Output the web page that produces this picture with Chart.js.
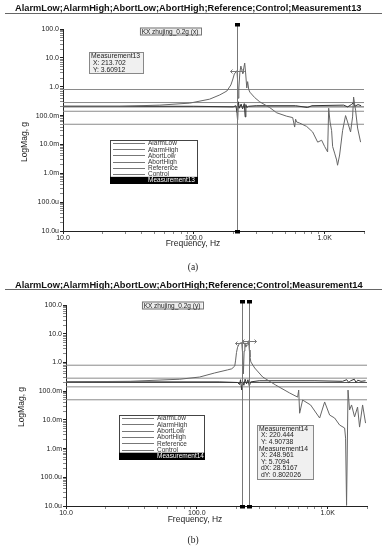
<!DOCTYPE html>
<html>
<head>
<meta charset="utf-8">
<script src="https://cdn.jsdelivr.net/npm/chart.js@4.4.1/dist/chart.umd.min.js"></script>
<style>
html, body { margin: 0; padding: 0; background: #fff; }
#wrap { position: relative; width: 387px; height: 550px; }
canvas { position: absolute; left: 0; }
</style>
</head>
<body>
<div id="wrap">
  <canvas id="chartA" width="387" height="275" style="top:0"></canvas>
  <canvas id="chartB" width="387" height="275" style="top:275px"></canvas>
</div>
<script>
// limit lines (g), same for both plots
var limitNames = ['AlarmLow', 'AlarmHigh', 'AbortLow', 'AbortHigh', 'Reference'];
var limitValues = [0.141, 0.283, 0.05, 0.8, 0.2];

// (a) x axis response
var freq13 = [10, 27, 55, 93, 132, 158, 179, 192, 199, 204, 213.7, 216, 218, 221, 225, 229, 232, 237, 241, 245,
  249, 254, 258, 263, 268, 292, 319, 380, 430, 513, 570, 590, 600, 611, 644, 729, 810, 885, 949, 1000,
  1054, 1074, 1100, 1131, 1151, 1192, 1235, 1256, 1302, 1372, 1446, 1498, 1579, 1636, 1665, 1725, 1787, 1884];
var mag13 = [0.21, 0.21, 0.23, 0.27, 0.37, 0.52, 0.71, 1.15, 1.85, 2.76, 3.61, 1.7, 0.4, 0.9, 3.2, 5.2, 4.0, 2.8, 4.5, 6.6,
  3.0, 0.9, 1.5, 0.8, 0.65, 0.42, 0.30, 0.19, 0.125, 0.095, 0.085, 0.04, 0.075, 0.06, 0.055, 0.042, 0.027, 0.012, 0.014, 0.0085,
  0.0055, 0.18, 0.06, 0.03, 0.0085, 0.005, 0.0029, 0.0019, 0.0043, 0.03, 0.10, 0.06, 0.027, 0.09, 0.44, 0.15, 0.037, 0.012];
var ctrlFreq13 = [10, 100, 200, 210, 214, 216, 219, 223, 230, 236, 243, 247, 250, 254, 262, 300, 600, 740, 760, 800,
  1400, 1500, 1600, 1660, 1700, 1800, 1900];
var ctrlMag13 = [0.21, 0.21, 0.2, 0.22, 0.12, 0.07, 0.3, 0.18, 0.25, 0.17, 0.26, 0.09, 0.24, 0.19, 0.21, 0.22, 0.22, 0.19, 0.2, 0.22,
  0.23, 0.2, 0.24, 0.28, 0.21, 0.24, 0.22];
var cursor13 = [213.702];
var cursorY13 = [3.60912];

// (b) y axis response
var freq14 = [10, 31, 74, 105, 137, 172, 185, 195, 198, 201, 205, 212, 220.4, 224, 227, 230, 233, 237, 242, 249,
  252, 255, 259, 277, 319, 401, 513, 590, 601, 611, 644, 741, 869, 949, 1036, 1131, 1235, 1349, 1372, 1396,
  1432, 1471, 1524, 1607, 1694, 1755, 1851, 1950];
var mag14 = [0.21, 0.22, 0.26, 0.31, 0.43, 0.55, 0.6, 0.75, 1.2, 2.2, 3.4, 4.6, 4.91, 2.0, 0.4, 2.5, 4.8, 3.4, 4.2, 5.71,
  2.7, 1.54, 1.04, 0.64, 0.31, 0.163, 0.086, 0.062, 0.109, 0.017, 0.049, 0.033, 0.0116, 0.042, 0.0147, 0.0116, 0.0066, 0.0052, 0.0023, 0.0000105,
  0.109, 0.022, 0.033, 0.0127, 0.028, 0.0056, 0.033, 0.0077];
var ctrlFreq14 = [10, 150, 205, 212, 216, 220, 224, 229, 234, 240, 246, 252, 258, 300, 800, 1300, 1400, 1450, 1500, 1600,
  1650, 1700, 1800, 1950];
var ctrlMag14 = [0.21, 0.21, 0.2, 0.17, 0.25, 0.11, 0.22, 0.16, 0.26, 0.18, 0.25, 0.15, 0.21, 0.23, 0.23, 0.22, 0.25, 0.2, 0.23, 0.26,
  0.2, 0.24, 0.22, 0.23];
var cursor14 = [220.444, 248.961];
var cursorY14 = [4.90738, 5.7094];

// tick labels by decade exponent
var yTickText = { '-5': '10.0u', '-4': '100.0u', '-3': '1.0m', '-2': '10.0m', '-1': '100.0m', '0': '1.0', '1': '10.0', '2': '100.0' };
var xTickText = { '1': '10.0', '2': '100.0', '3': '1.0K' };

var FONT = '"Liberation Sans", Arial, sans-serif';

function pairs(xs, ys) {
  return xs.map(function(x, i) { return { x: x, y: ys[i] }; });
}

function decade(v) {
  var e = Math.log10(v), r = Math.round(e);
  return Math.abs(e - r) < 1e-6 ? r : null;
}

function logTicks(s) {
  var t = [];
  for (var e = Math.floor(Math.log10(s.min)); e <= Math.ceil(Math.log10(s.max)); e++) {
    for (var m = 1; m < 10; m++) {
      var v = m * Math.pow(10, e);
      if (v >= s.min * 0.999 && v <= s.max * 1.001) t.push({ value: v });
    }
  }
  s.ticks = t;
}

function tickColor(c) {
  if (!c.tick) return '#222';
  return decade(c.tick.value) !== null ? '#222' : '#888';
}

// everything the library does not draw itself: title, cursors, boxes, legend, axis names
var decor = {
  id: 'decor',
  afterDraw: function(chart, args, o) {
    var ctx = chart.ctx, ca = chart.chartArea;
    var xs = chart.scales.x, ys = chart.scales.y;
    ctx.save();

    // title with underline
    ctx.fillStyle = '#111';
    ctx.font = 'bold 9px ' + FONT;
    var size = 9 * o.titleWidth / ctx.measureText(o.title).width;
    ctx.font = 'bold ' + size.toFixed(2) + 'px ' + FONT;
    ctx.textBaseline = 'middle';
    ctx.textAlign = 'left';
    ctx.fillText(o.title, o.titleX, o.titleY);
    ctx.strokeStyle = '#666';
    ctx.lineWidth = 1;
    ctx.beginPath();
    ctx.moveTo(5, o.ruleY + 0.5);
    ctx.lineTo(382, o.ruleY + 0.5);
    ctx.stroke();

    // cursors
    o.cursors.forEach(function(cv, i) {
      var px = Math.round(xs.getPixelForValue(cv)) + 0.5;
      ctx.strokeStyle = '#777';
      ctx.lineWidth = 1;
      ctx.beginPath();
      ctx.moveTo(px, o.cursorTop);
      ctx.lineTo(px, ca.bottom + 2);
      ctx.stroke();
      ctx.fillStyle = '#000';
      ctx.fillRect(px - 2.5, o.cursorTop - 2, 5, 3.5);
      ctx.fillRect(px - 2.5, ca.bottom - 1, 5, 3.5);
      // double arrow at the cursor value
      var py = Math.round(ys.getPixelForValue(o.cursorY[i])) + 0.5;
      ctx.strokeStyle = '#777';
      ctx.beginPath();
      ctx.moveTo(px - 7, py); ctx.lineTo(px + 7, py);
      ctx.moveTo(px - 5, py - 2); ctx.lineTo(px - 7, py); ctx.lineTo(px - 5, py + 2);
      ctx.moveTo(px + 5, py - 2); ctx.lineTo(px + 7, py); ctx.lineTo(px + 5, py + 2);
      ctx.stroke();
    });

    // trace name box
    ctx.font = '6.5px ' + FONT;
    var kw = ctx.measureText(o.trace).width + 4;
    ctx.fillStyle = '#ececec';
    ctx.fillRect(o.traceX - kw / 2, o.traceY - 4, kw, 8);
    ctx.strokeStyle = '#777';
    ctx.strokeRect(Math.round(o.traceX - kw / 2) + 0.5, o.traceY - 3.5, Math.round(kw), 7);
    ctx.fillStyle = '#222';
    ctx.textAlign = 'center';
    ctx.fillText(o.trace, o.traceX, o.traceY + 0.5);

    // cursor readout box
    var b = o.readout;
    ctx.fillStyle = '#f0f0f0';
    ctx.fillRect(b.x, b.y, b.w, b.h);
    ctx.strokeStyle = '#888';
    ctx.strokeRect(b.x + 0.5, b.y + 0.5, b.w, b.h);
    ctx.fillStyle = '#222';
    ctx.textAlign = 'left';
    ctx.font = '6.8px ' + FONT;
    b.lines.forEach(function(t, i) {
      ctx.fillText(t, b.x + 2, b.y + 4 + i * b.lh);
    });

    // legend box
    var L = o.legend;
    var rows = L.labels.length;
    var lh = L.h / rows;
    ctx.fillStyle = '#fff';
    ctx.fillRect(L.x, L.y, L.w, L.h);
    ctx.strokeStyle = '#444';
    ctx.strokeRect(L.x + 0.5, L.y + 0.5, L.w, L.h);
    ctx.font = '6.5px ' + FONT;
    L.labels.forEach(function(t, i) {
      var ry = L.y + i * lh;
      if (i === rows - 1) {
        ctx.fillStyle = '#000';
        ctx.fillRect(L.x, ry, L.w + 1, lh + 1);
        ctx.fillStyle = '#fff';
      } else {
        ctx.strokeStyle = '#777';
        ctx.beginPath();
        ctx.moveTo(L.x + 3, Math.round(ry + lh / 2) + 0.5);
        ctx.lineTo(L.textX - 3, Math.round(ry + lh / 2) + 0.5);
        ctx.stroke();
        ctx.fillStyle = '#333';
      }
      ctx.fillText(t, L.textX, ry + lh / 2 + 0.5);
    });

    // axis names and caption
    ctx.fillStyle = '#222';
    ctx.textAlign = 'center';
    ctx.font = '8.5px ' + FONT;
    ctx.fillText('Frequency, Hz', o.xNameX, o.xNameY);
    ctx.save();
    ctx.translate(o.yNameX, o.yNameY);
    ctx.rotate(-Math.PI / 2);
    ctx.fillText('LogMag, g', 0, 0);
    ctx.restore();
    ctx.font = '9.5px "Liberation Serif", "Times New Roman", serif';
    ctx.fillText(o.caption, o.captionX, o.captionY);

    ctx.restore();
  }
};

function makeChart(id, meas, ctrl, axisLeft, deco) {
  var datasets = limitNames.map(function(n, i) {
    return {
      label: n,
      data: [{ x: 10, y: limitValues[i] }, { x: 2000, y: limitValues[i] }],
      borderColor: n === 'Reference' ? '#555' : '#8a8a8a',
      order: 2
    };
  });
  datasets.push({ label: 'Control', data: ctrl, borderColor: '#333', order: 1 });
  datasets.push({ label: deco.measName, data: meas, borderColor: '#666', order: 0 });
  datasets.forEach(function(d) {
    d.showLine = true;
    d.borderWidth = 1;
    d.pointRadius = 0;
    d.tension = 0;
    d.fill = false;
  });

  return new Chart(document.getElementById(id).getContext('2d'), {
    type: 'scatter',
    data: { datasets: datasets },
    plugins: [decor],
    options: {
      responsive: false,
      animation: false,
      layout: { padding: { top: deco.plotTop, right: deco.padRight, left: 0, bottom: 0 } },
      scales: {
        x: {
          type: 'logarithmic',
          min: 10,
          max: 2000,
          afterBuildTicks: logTicks,
          afterFit: function(s) { s.height = 275 - 231; },
          grid: { drawOnChartArea: false, tickLength: 3, tickColor: tickColor },
          border: { display: true, color: '#222', width: 1 },
          ticks: {
            autoSkip: false, maxRotation: 0, minRotation: 0, padding: 0,
            color: '#222', font: { size: 7, family: FONT },
            callback: function(v) { var d = decade(v); return d === null ? '' : (xTickText[d] || ''); }
          }
        },
        y: {
          type: 'logarithmic',
          min: 0.00001,
          max: 100,
          afterBuildTicks: logTicks,
          afterFit: function(s) { s.width = axisLeft; },
          grid: { drawOnChartArea: false, tickLength: 3, tickColor: tickColor },
          border: { display: true, color: '#222', width: 1 },
          ticks: {
            autoSkip: false, padding: 1,
            color: '#222', font: { size: 7, family: FONT },
            callback: function(v) { var d = decade(v); return d === null ? '' : (yTickText[d] || ''); }
          }
        }
      },
      plugins: {
        legend: { display: false },
        tooltip: { enabled: false },
        decor: deco
      }
    }
  });
}

makeChart('chartA', pairs(freq13, mag13), pairs(ctrlFreq13, ctrlMag13), 63, {
  measName: 'Measurement13',
  plotTop: 29, padRight: 23,
  title: 'AlarmLow;AlarmHigh;AbortLow;AbortHigh;Reference;Control;Measurement13',
  titleX: 15, titleY: 8.5, titleWidth: 347, ruleY: 13,
  cursors: cursor13, cursorY: cursorY13, cursorTop: 25,
  trace: 'KX zhujing_0.2g (x)', traceX: 170, traceY: 31.5,
  readout: { x: 89, y: 52, w: 54, h: 21, lh: 7, lines: ['Measurement13', ' X: 213.702', ' Y: 3.60912'] },
  legend: { x: 110, y: 140, w: 87, h: 43, textX: 148,
    labels: ['AlarmLow', 'AlarmHigh', 'AbortLow', 'AbortHigh', 'Reference', 'Control', 'Measurement13'] },
  xNameX: 193, xNameY: 244, yNameX: 25, yNameY: 142,
  caption: '(a)', captionX: 193, captionY: 267
});

makeChart('chartB', pairs(freq14, mag14), pairs(ctrlFreq14, ctrlMag14), 66, {
  measName: 'Measurement14',
  plotTop: 30, padRight: 20,
  title: 'AlarmLow;AlarmHigh;AbortLow;AbortHigh;Reference;Control;Measurement14',
  titleX: 15, titleY: 10, titleWidth: 348, ruleY: 14,
  cursors: cursor14, cursorY: cursorY14, cursorTop: 27,
  trace: 'KX zhujing_0.2g (y)', traceX: 172, traceY: 30.5,
  readout: { x: 257, y: 150, w: 56, h: 54, lh: 6.6,
    lines: ['Measurement14', ' X: 220.444', ' Y: 4.90738', 'Measurement14', ' X: 248.961', ' Y: 5.7094', ' dX: 28.5167', ' dY: 0.802026'] },
  legend: { x: 119, y: 140, w: 85, h: 44, textX: 157,
    labels: ['AlarmLow', 'AlarmHigh', 'AbortLow', 'AbortHigh', 'Reference', 'Control', 'Measurement14'] },
  xNameX: 195, xNameY: 245, yNameX: 22, yNameY: 132,
  caption: '(b)', captionX: 193, captionY: 265
});
</script>
</body>
</html>
